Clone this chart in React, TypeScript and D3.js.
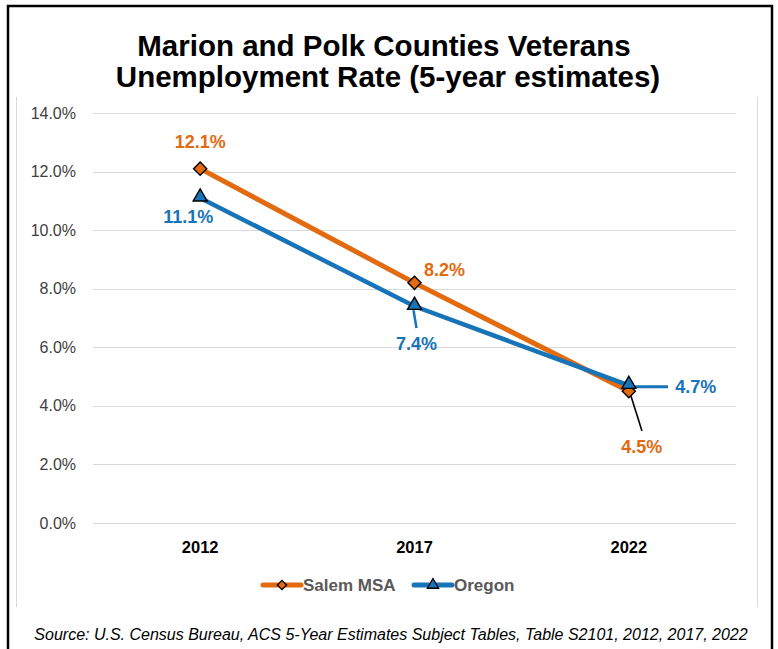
import React, { useEffect, useRef } from 'react';
import * as d3 from 'd3';

const years = ['2012', '2017', '2022'];
const salemMSA = [12.1, 8.2, 4.5];
const oregon = [11.1, 7.4, 4.7];
const yTicks = [0, 2, 4, 6, 8, 10, 12, 14];

const ORANGE = '#E26B10';
const BLUE = '#1874B8';
const FONT = 'Liberation Sans, Arial, sans-serif';

const W = 778;
const H = 649;

const App = () => {
  const svgRef = useRef<SVGSVGElement | null>(null);

  useEffect(() => {
    const svg = d3.select(svgRef.current);
    svg.selectAll('*').remove();

    // outer frame + chart area sides
    svg.append('rect').attr('x', 8).attr('y', 6).attr('width', 764).attr('height', 700)
      .attr('fill', '#fff').attr('stroke', '#000').attr('stroke-width', 2.5);
    svg.append('line').attr('x1', 16.5).attr('x2', 16.5).attr('y1', 97).attr('y2', 607)
      .attr('stroke', '#d9d9d9');
    svg.append('line').attr('x1', 757.5).attr('x2', 757.5).attr('y1', 97).attr('y2', 607)
      .attr('stroke', '#d9d9d9');

    // title
    const title = svg.append('text').attr('text-anchor', 'middle').attr('font-family', FONT)
      .attr('font-weight', 'bold').attr('font-size', 29.5).attr('fill', '#000');
    title.append('tspan').attr('x', 384).attr('y', 56).text('Marion and Polk Counties Veterans');
    title.append('tspan').attr('x', 388).attr('y', 87).text('Unemployment Rate (5-year estimates)');

    const x = d3.scaleBand().domain(years).range([93, 736]);
    const y = d3.scaleLinear().domain([0, 14]).range([523, 113]);
    const cx = (d: string) => (x(d) ?? 0) + x.bandwidth() / 2;

    // gridlines + y labels
    svg.append('g').selectAll('line').data(yTicks).enter().append('line')
      .attr('x1', 93).attr('x2', 736)
      .attr('y1', (d) => Math.round(y(d)) + 0.5).attr('y2', (d) => Math.round(y(d)) + 0.5)
      .attr('stroke', '#d9d9d9').attr('stroke-width', 1.2);
    svg.append('g').selectAll('text').data(yTicks).enter().append('text')
      .attr('x', 76).attr('y', (d) => y(d) + 5.5).attr('text-anchor', 'end')
      .attr('font-family', FONT).attr('font-size', 16).attr('fill', '#404040')
      .text((d) => `${d.toFixed(1)}%`);

    // x labels
    svg.append('g').selectAll('text').data(years).enter().append('text')
      .attr('x', (d) => cx(d)).attr('y', 553).attr('text-anchor', 'middle')
      .attr('font-family', FONT).attr('font-weight', 'bold').attr('font-size', 16.5).attr('fill', '#000')
      .text((d) => d);

    const line = d3.line<number>().x((_, i) => cx(years[i])).y((d) => y(d));

    const diamond = d3.symbol().type(d3.symbolDiamond2).size(110);
    const triangle = d3.symbol().type(d3.symbolTriangle).size(85);

    // leader lines
    svg.append('line').attr('x1', 630).attr('y1', 393)
      .attr('x2', 642).attr('y2', 431).attr('stroke', '#000').attr('stroke-width', 1.6);
    svg.append('line').attr('x1', cx('2017') - 1).attr('y1', y(7.4) + 4)
      .attr('x2', cx('2017') + 2).attr('y2', 328).attr('stroke', BLUE).attr('stroke-width', 2.5);
    svg.append('line').attr('x1', cx('2022')).attr('y1', y(4.7) + 1.5)
      .attr('x2', 668).attr('y2', y(4.7) + 1.5).attr('stroke', BLUE).attr('stroke-width', 3);

    // Salem
    svg.append('path').attr('d', line(salemMSA)).attr('fill', 'none')
      .attr('stroke', ORANGE).attr('stroke-width', 5);
    svg.append('g').selectAll('path').data(salemMSA).enter().append('path')
      .attr('d', diamond)
      .attr('transform', (d, i) => `translate(${cx(years[i])},${y(d)})`)
      .attr('fill', ORANGE).attr('stroke', '#000').attr('stroke-width', 1.4);

    // Oregon
    svg.append('path').attr('d', line(oregon)).attr('fill', 'none')
      .attr('stroke', BLUE).attr('stroke-width', 4.5);
    svg.append('g').selectAll('path').data(oregon).enter().append('path')
      .attr('d', triangle)
      .attr('transform', (d, i) => `translate(${cx(years[i])},${y(d) - 1})`)
      .attr('fill', BLUE).attr('stroke', '#000').attr('stroke-width', 1.4);

    // data labels
    const salemPos = [[0, -20.5], [30, -7], [13, 62]];
    const oregonPos = [[-12, 25], [2, 44], [67, 8]];
    const label = (vals: number[], pos: number[][], color: string) => {
      svg.append('g').selectAll('text').data(vals).enter().append('text')
        .attr('x', (d, i) => cx(years[i]) + pos[i][0])
        .attr('y', (d, i) => y(d) + pos[i][1])
        .attr('text-anchor', 'middle').attr('font-family', FONT).attr('font-weight', 'bold')
        .attr('font-size', 18).attr('fill', color)
        .text((d) => `${d.toFixed(1)}%`);
    };
    label(salemMSA, salemPos, ORANGE);
    label(oregon, oregonPos, BLUE);

    // legend
    const legend = [
      { name: 'Salem MSA', color: ORANGE, sym: diamond, x0: 263 },
      { name: 'Oregon', color: BLUE, sym: triangle, x0: 414 },
    ];
    legend.forEach((l) => {
      const g = svg.append('g').attr('transform', `translate(${l.x0},585)`);
      g.append('line').attr('x1', 0).attr('x2', 38).attr('stroke', l.color)
        .attr('stroke-width', 5).attr('stroke-linecap', 'round');
      g.append('path').attr('d', l.sym.size(55)())
        .attr('transform', 'translate(19,0)')
        .attr('fill', l.color).attr('stroke', '#000').attr('stroke-width', 1.3);
      g.append('text').attr('x', 40).attr('y', 6).attr('font-family', FONT)
        .attr('font-weight', 'bold').attr('font-size', 17).attr('fill', '#595959').text(l.name);
    });

    // source
    svg.append('text').attr('x', 391).attr('y', 640).attr('text-anchor', 'middle')
      .attr('font-family', FONT).attr('font-style', 'italic').attr('font-size', 16).attr('fill', '#000')
      .text('Source: U.S. Census Bureau, ACS 5-Year Estimates Subject Tables, Table S2101, 2012, 2017, 2022');
  }, []);

  return (
    <div style={{ position: 'absolute', left: 0, top: 0 }}>
      <svg ref={svgRef} width={W} height={H} style={{ display: 'block', background: '#fff' }} />
    </div>
  );
};

export default App;
